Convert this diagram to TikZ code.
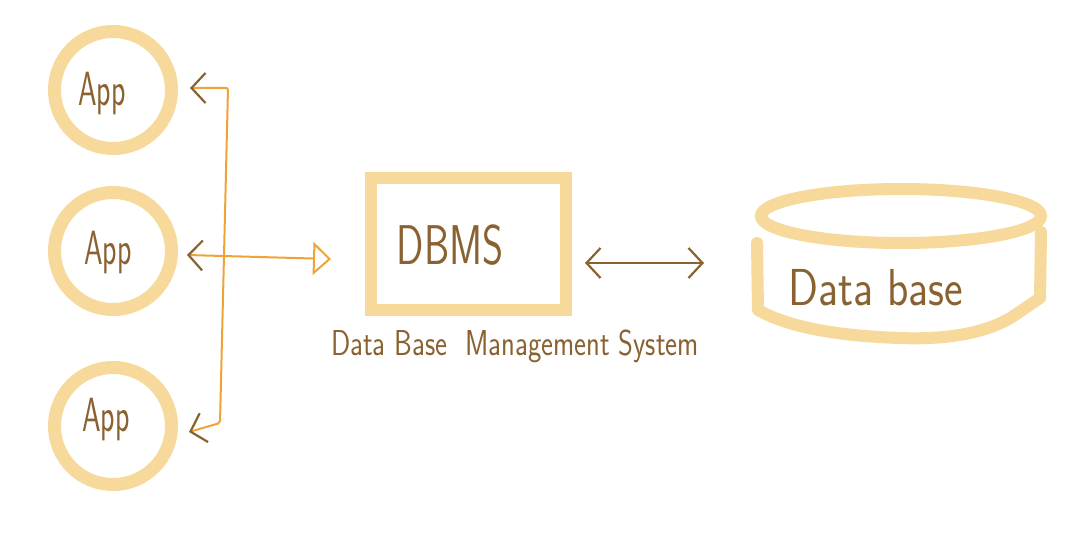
\documentclass[tikz,border=0pt]{standalone}
\usetikzlibrary{arrows.meta}
\definecolor{ring}{HTML}{F6D99B}
\definecolor{ink}{HTML}{8A6232}
\definecolor{wire}{HTML}{EFA336}
\tikzset{
  appnode/.style={circle, draw=ring, line width=13pt, minimum size=117pt, inner sep=0pt},
  hand/.style={text=ink, font=\sffamily},
  apptext/.style={hand, font=\sffamily\fontsize{48}{48}\selectfont, xscale=0.62},
  chev/.tip={Straight Barb[color=ink, length=14pt, width=30pt, line width=2.2pt]},
  opentri/.tip={Triangle[open, length=18pt, width=33pt, line width=2pt]},
  wireline/.style={draw=wire, line width=2pt, rounded corners=2pt},
}
\begin{document}
\begin{tikzpicture}[x=1pt,y=-1pt]
\useasboundingbox (0,0) rectangle (1083,537);
% apps
\node[appnode] (app1) at (113,90) {};
\node[appnode] (app2) at (113,251) {};
\node[appnode] (app3) at (113,426) {};
\node[apptext] (t1) at (102,94) {App};
\node[apptext] (t2) at (108,253) {App};
\node[apptext] (t3) at (106,420) {App};
% DBMS box
\node[draw=ring, line width=12pt, minimum width=195pt, minimum height=132pt, inner sep=0pt] (dbms) at (468.5,244) {};
\node[hand, font=\sffamily\fontsize{56}{56}\selectfont, xscale=0.72] (dbmst) at (450,245) {DBMS};
\node[hand, font=\sffamily\fontsize{36}{36}\selectfont, xscale=0.79] (full) at (515,346) {Data Base\ \ Management System};
% database cylinder
\coordinate (dbc) at (901,216);
\draw[ring, line width=12pt] (dbc) ellipse [x radius=140pt, y radius=27pt];
\draw[ring, line width=12pt, line cap=round, line join=round]
  (757,243) -- (758,310) .. controls (790,328) and (840,336) .. (900,338)
  .. controls (950,340) and (990,332) .. (1015,315)
  -- (1040,298) -- (1041,232);
\node[hand, font=\sffamily\fontsize{52}{52}\selectfont, xscale=0.85] (dbt) at (876,288) {Data base};
% connectors
\coordinate (j1) at (190,88);
\coordinate (k1) at (228,88);
\coordinate (k3) at (220,423);
\coordinate (j3) at (189,432);
\draw[wireline, arrows={chev-chev}] (j1) -- (k1) -- (k3) -- (j3);
\coordinate (j2) at (187,255);
\coordinate (d2) at (331,259);
\draw[wire, line width=2pt, arrows={chev-opentri}] (j2) -- (d2);
\coordinate (m1) at (585,263);
\coordinate (m2) at (704,263);
\draw[ink, line width=2.2pt, arrows={chev-chev}] (m1) -- (m2);
\end{tikzpicture}
\end{document}
